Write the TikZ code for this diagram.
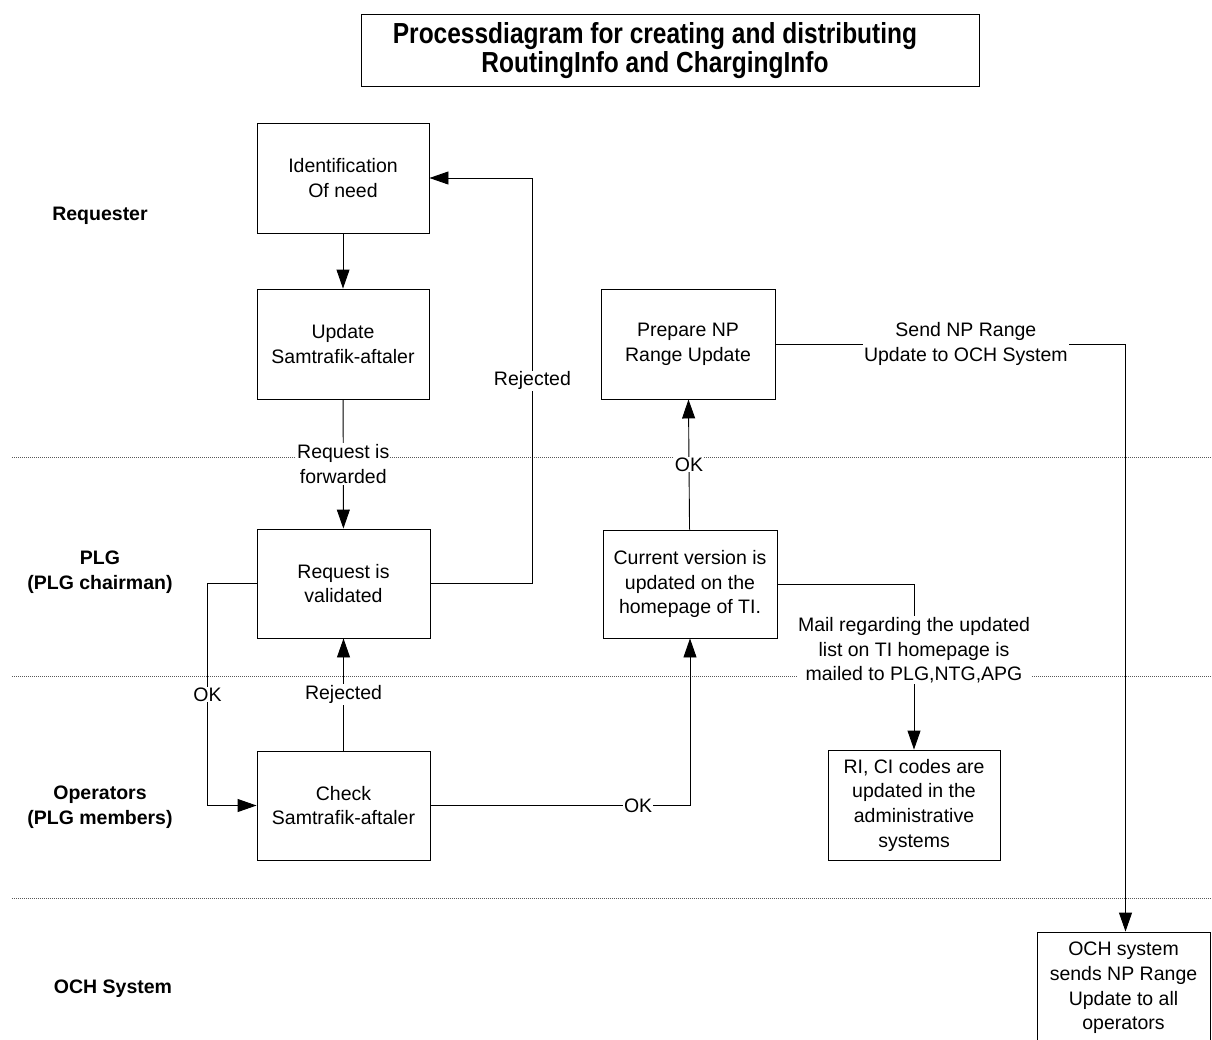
\documentclass[tikz,border=0pt]{standalone}
\usepackage{fontspec}
\setmainfont{Liberation Sans}
\newfontfamily\titlefont[FakeStretch=0.845]{Liberation Sans}
\usetikzlibrary{arrows.meta}
\begin{document}
\begin{tikzpicture}[x=1pt,y=-1pt,
  every node/.style={font=\fontsize{19.5}{24.7}\selectfont},
  procbox/.style={draw,line width=0.9pt,minimum width=172pt,minimum height=110pt,align=center,inner sep=2pt},
  lane/.style={font=\fontsize{19.5}{24.7}\selectfont\bfseries,align=center},
  lbl/.style={fill=white,inner sep=1pt,align=center},
  conn/.style={line width=0.9pt},
  arr/.style={conn,-{Triangle[length=19pt,width=13pt]}},
  sep/.style={line width=0.8pt,gray!70!black,dash pattern=on 1pt off 1pt}
]
\clip (0,0) rectangle (1212,1039);
\fill[white] (0,0) rectangle (1212,1039);

% title
\node[draw,line width=1pt,minimum width=618pt,minimum height=72pt] (title) at (670,50) {};
\node[align=center,font=\titlefont\fontsize{29}{29}\selectfont\bfseries] (titletext) at (655,50.5)
  {Processdiagram for creating and distributing\\RoutingInfo and ChargingInfo};

% swimlane separators
\coordinate (s1a) at (12,457);  \coordinate (s1b) at (1212,457);
\coordinate (s2a) at (12,676);  \coordinate (s2b) at (1212,676);
\coordinate (s3a) at (12,898);  \coordinate (s3b) at (1212,898);
\draw[sep] (s1a) -- (s1b);
\draw[sep] (s2a) -- (s2b);
\draw[sep] (s3a) -- (s3b);

% lane labels
\node[lane] (l1) at (100,216) {Requester};
\node[lane] (l2) at (100,572) {PLG\\(PLG chairman)};
\node[lane] (l3) at (100,807) {Operators\\(PLG members)};
\node[lane] (l4) at (113,989) {OCH System};

% process boxes
\node[procbox] (ident) at (343,178) {Identification\\Of need};
\node[procbox] (update) at (343,344) {Update\\Samtrafik-aftaler};
\node[procbox,minimum width=173pt,minimum height=109pt] (req) at (343.5,583.5) {Request is\\validated};
\node[procbox,minimum width=173pt,minimum height=109pt] (check) at (343.5,805.5) {Check\\Samtrafik-aftaler};
\node[procbox,minimum width=174pt] (prep) at (688,344) {Prepare NP\\Range Update};
\node[procbox,minimum width=174pt,minimum height=108pt] (cur) at (690,584) {Current version is\\updated on the\\homepage of TI.};
\node[procbox] (ri) at (914,805) {RI, CI codes are\\updated in the\\administrative\\systems};
\node[procbox,minimum width=173pt,minimum height=112pt] (och) at (1123.5,988) {OCH system\\sends NP Range\\Update to all\\operators};

% connectors
\draw[arr] (ident) -- (update);
\draw[arr] (update) -- node[lbl]{Request is\\forwarded} (req);
\draw[arr] (req.east) -- ++(102,0) |- node[lbl,pos=0.25]{Rejected} (ident.east);
\draw[arr] (req.west) -- ++(-49,0) |- node[lbl,pos=0.25]{OK} (check.west);
\draw[arr] (check) -- node[lbl]{Rejected} (req);
\draw[arr] (check.east) -| node[lbl,pos=0.4]{OK} (cur.south);
\draw[arr] (cur) -- node[lbl]{OK} (prep);
\draw[arr] (cur.east) -| node[lbl,pos=0.7]{Mail regarding the updated\\list on TI homepage is\\mailed to PLG,NTG,APG} (ri.north);
\draw[arr] (prep.east) -| node[lbl,pos=0.272]{Send NP Range\\Update to OCH System} ([xshift=2pt]och.north);
\end{tikzpicture}
\end{document}
